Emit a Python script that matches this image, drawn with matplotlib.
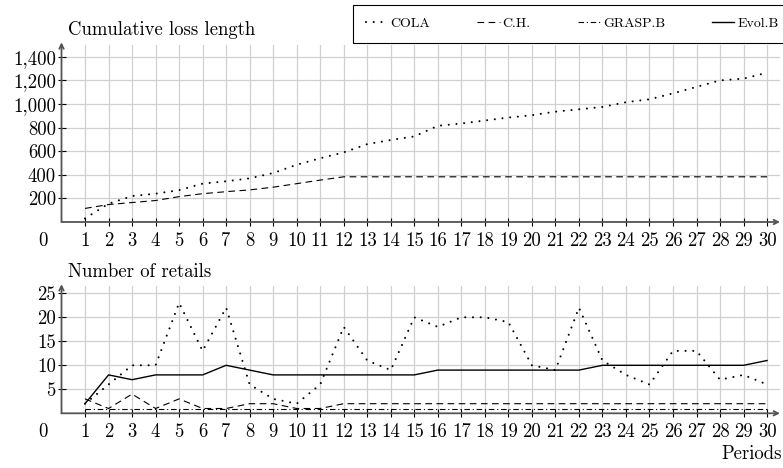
import matplotlib.pyplot as plt
from matplotlib.lines import Line2D

plt.rcParams['font.family'] = ['cmr10', 'DejaVu Serif']
plt.rcParams['axes.formatter.use_mathtext'] = True

periods = list(range(1, 31))

# cumulative loss length
cola_loss = [30, 155, 220, 240, 270, 325, 345, 370, 415, 485, 540, 590, 660, 695, 725,
             815, 835, 860, 885, 905, 935, 955, 975, 1015, 1040, 1090, 1145, 1200, 1215, 1265]
ch_loss = [115, 148, 165, 182, 215, 240, 257, 272, 295, 325, 355, 383, 383, 383, 383,
           383, 383, 383, 383, 383, 383, 383, 383, 383, 383, 383, 383, 383, 383, 383]
grasp_loss = [0, 0, 0, 0, 0, 0, 0, 0, 0, 0, 0, 0, 0, 0, 0,
              0, 0, 0, 0, 0, 0, 0, 0, 0, 0, 0, 0, 0, 0, 0]
evol_loss = [0, 0, 0, 0, 0, 0, 0, 0, 0, 0, 0, 0, 0, 0, 0,
             0, 0, 0, 0, 0, 0, 0, 0, 0, 0, 0, 0, 0, 0, 0]

# number of retails
cola_ret = [2, 6, 10, 10, 23, 13, 22, 6, 3, 2, 6, 18, 11, 9, 20,
            18, 20, 20, 19, 10, 9, 22, 11, 8, 6, 13, 13, 7, 8, 6]
ch_ret = [3, 1, 4, 1, 3, 1, 1, 2, 2, 1, 1, 2, 2, 2, 2,
          2, 2, 2, 2, 2, 2, 2, 2, 2, 2, 2, 2, 2, 2, 2]
grasp_ret = [1, 1, 1, 1, 1, 1, 1, 1, 1, 1, 1, 1, 1, 1, 1,
             1, 1, 1, 1, 1, 1, 1, 1, 1, 1, 1, 1, 1, 1, 1]
evol_ret = [2, 8, 7, 8, 8, 8, 10, 9, 8, 8, 8, 8, 8, 8, 8,
            9, 9, 9, 9, 9, 9, 9, 10, 10, 10, 10, 10, 10, 10, 11]

loss_ticks = [200, 400, 600, 800, 1000, 1200, 1400]
loss_labels = ['200', '400', '600', '800', '1,000', '1,200', '1,400']
ret_ticks = [5, 10, 15, 20, 25]

FS = 13.5
styles = {
    'COLA': dict(color='black', lw=1.5, linestyle=(0, (0.01, 3.7)), dash_capstyle='round'),
    'C.H.': dict(color='black', lw=0.8, linestyle=(0, (6, 4))),
    'GRASP.B': dict(color='black', lw=0.8, linestyle=(0, (5, 2.5, 1, 2.5))),
    'Evol.B': dict(color='black', lw=1.0, linestyle='-'),
}

W, H = 783, 468
fig = plt.figure(figsize=(7.83, 4.68), dpi=100)
x0 = 61.5 / W
w = (780 - 61.5) / W
ax1 = fig.add_axes([x0, (H - 222) / H, w, 177 / H])
ax2 = fig.add_axes([x0, (H - 413.3) / H, w, 127.2 / H])


def setup(ax, ymax, yticks, ylabels):
    ax.set_xlim(0, 30.55)
    ax.set_ylim(0, ymax)
    ax.set_xticks(periods)
    ax.set_xticklabels([str(p) for p in periods], fontsize=FS)
    ax.set_yticks(yticks)
    ax.set_yticklabels(ylabels, fontsize=FS)
    ax.grid(True, color='#d0d0d0', lw=0.9)
    ax.set_axisbelow(True)
    for s in ax.spines.values():
        s.set_visible(False)
    ax.tick_params(direction='inout', length=6, width=0.8, color='black', pad=4)
    ax.tick_params(axis='y', pad=1)
    ax.annotate('', xy=(1.0, 0), xytext=(0, 0), xycoords='axes fraction',
                arrowprops=dict(arrowstyle='->', lw=1.3, color='#555555',
                                shrinkA=0, shrinkB=0, mutation_scale=8))
    ax.annotate('', xy=(0, 1.015), xytext=(0, 0), xycoords='axes fraction',
                arrowprops=dict(arrowstyle='->', lw=1.3, color='#555555',
                                shrinkA=0, shrinkB=0, mutation_scale=8))
    ax.annotate('0', xy=(0, 0), xycoords='data', xytext=(-13.3, -13.5),
                textcoords='offset points', ha='center', va='center', fontsize=FS)


setup(ax1, 1500, loss_ticks, loss_labels)
setup(ax2, 26.5, ret_ticks, [str(t) for t in ret_ticks])

for name, vals in [('COLA', cola_loss), ('C.H.', ch_loss),
                   ('GRASP.B', grasp_loss), ('Evol.B', evol_loss)]:
    ax1.plot(periods, vals, **styles[name])
for name, vals in [('COLA', cola_ret), ('C.H.', ch_ret),
                   ('GRASP.B', grasp_ret), ('Evol.B', evol_ret)]:
    ax2.plot(periods, vals, **styles[name])

fig.text(68 / W, 1 - 30 / H, 'Cumulative loss length', fontsize=FS, va='center', ha='left')
fig.text(68 / W, 1 - 272 / H, 'Number of retails', fontsize=FS, va='center', ha='left')
fig.text(782 / W, 1 - 454 / H, 'Periods', fontsize=FS, va='center', ha='right')

handles = [Line2D([], [], **styles[n]) for n in styles]
leg = fig.legend(handles, list(styles.keys()), ncol=4, loc='upper left',
                 bbox_to_anchor=(353 / W, 1 - 5 / H), bbox_transform=fig.transFigure,
                 frameon=True, fancybox=False, edgecolor='black', framealpha=1,
                 fontsize=10, handlelength=1.6, handletextpad=0.2,
                 columnspacing=3.4, borderpad=0.9, borderaxespad=0)
leg.get_frame().set_linewidth(0.8)

fig.savefig('out.png', dpi=100)
